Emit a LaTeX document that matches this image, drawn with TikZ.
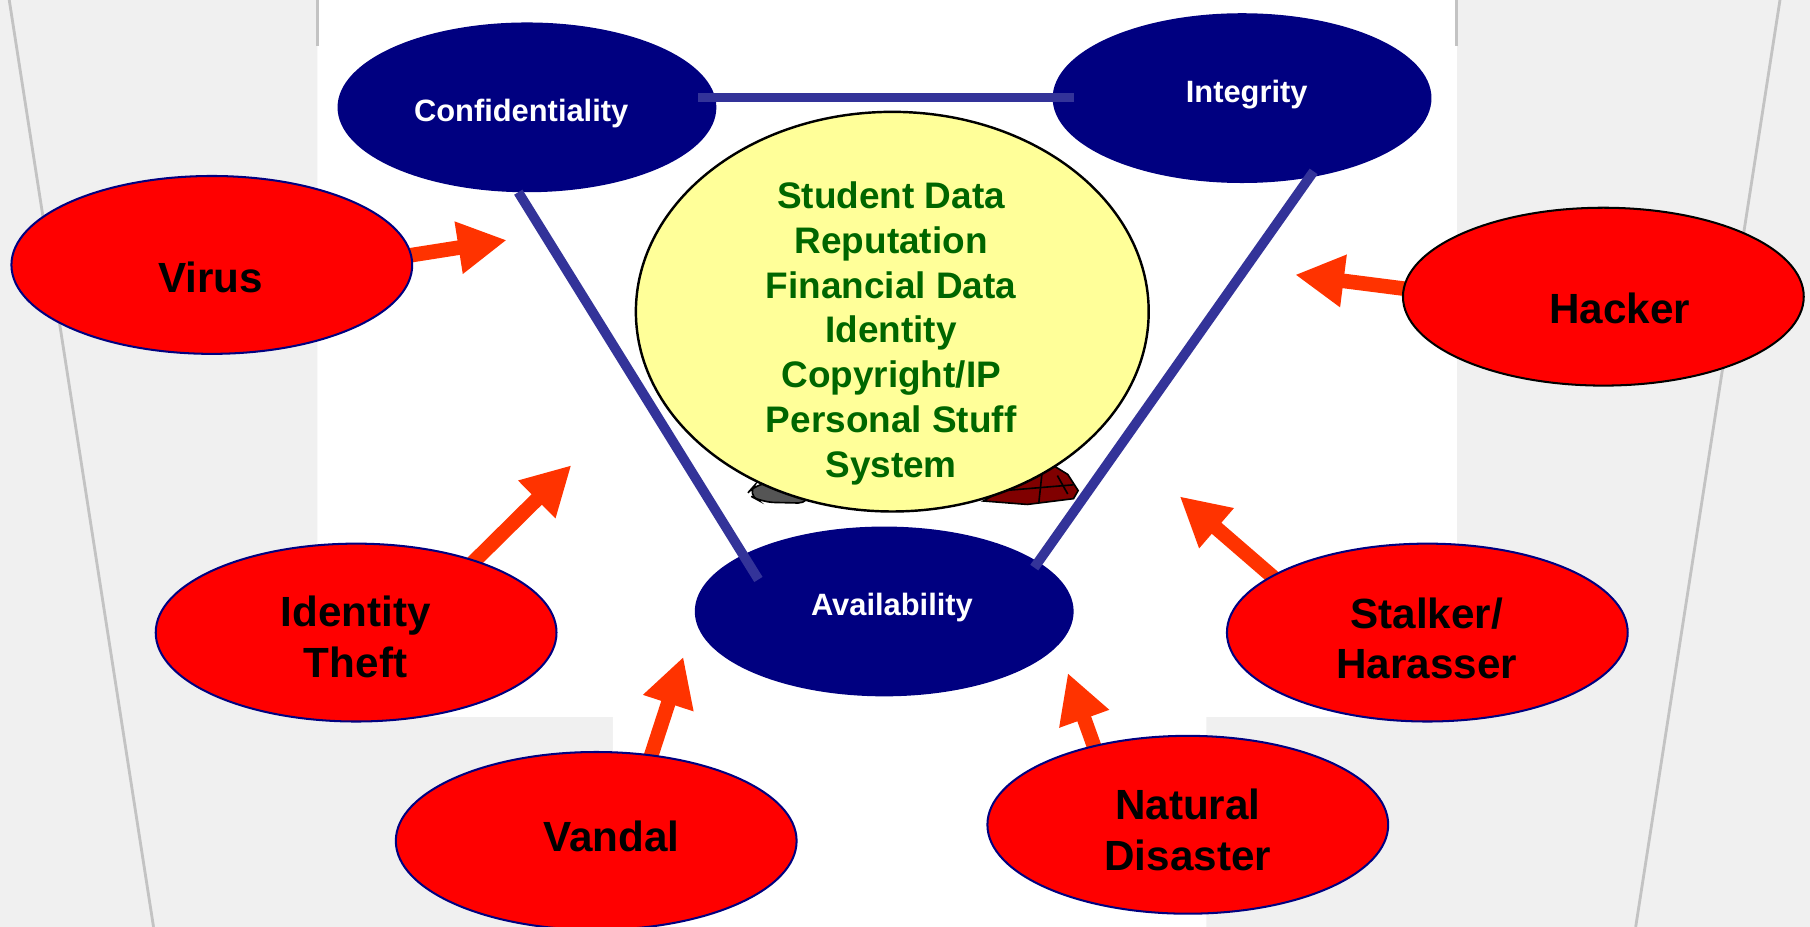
\documentclass[tikz,border=0pt]{standalone}
\usepackage{fontspec}
\setmainfont{Liberation Sans}
\usetikzlibrary{shapes.geometric,arrows.meta,calc}
\definecolor{navyb}{RGB}{0,0,128}
\definecolor{linkblue}{RGB}{51,51,153}
\definecolor{threatred}{RGB}{255,0,0}
\definecolor{arrowred}{RGB}{255,51,0}
\definecolor{assetyellow}{RGB}{255,255,153}
\definecolor{assetgreen}{RGB}{0,102,0}
\definecolor{texgray}{RGB}{240,240,240}
\definecolor{embgray}{RGB}{195,195,195}
\definecolor{shadowred}{RGB}{128,0,0}
\definecolor{shadowgray}{RGB}{85,85,85}
\pgfdeclarelayer{back}
\pgfdeclarelayer{behind}
\pgfsetlayers{back,behind,main}
\begin{document}
\begin{tikzpicture}[x=0.01cm,y=-0.01cm,
  cia/.style={ellipse, fill=navyb, draw=none, minimum width=3.28cm, minimum height=1.47cm, inner sep=0pt, outer sep=0pt},
  threat/.style={ellipse, fill=threatred, draw=navyb, line width=0.5pt, minimum width=3.47cm, minimum height=1.54cm, inner sep=0pt, outer sep=0pt},
  asset/.style={ellipse, fill=assetyellow, draw=black, line width=0.6pt, minimum width=4.44cm, minimum height=3.46cm, inner sep=0pt, outer sep=0pt},
  cialabel/.style={text=white, font=\fontsize{7.6pt}{9pt}\selectfont\bfseries, anchor=base, inner sep=0pt},
  threatlabel/.style={text=black, font=\fontsize{10.4pt}{12.5pt}\selectfont\bfseries, align=center, anchor=base, inner sep=0pt},
  assetlabel/.style={text=assetgreen, font=\fontsize{9.1pt}{11.04pt}\selectfont\bfseries, align=center, anchor=base, inner sep=0pt},
  link/.style={draw=linkblue, line width=2.4pt},
  attack/.style={draw=arrowred, line width=3.6pt, -{Triangle[length=12pt,width=12.2pt]}},
  emboss/.style={draw=embgray, line width=0.7pt},
]
\useasboundingbox (0,0) rectangle (1568,803);

% background
\begin{pgfonlayer}{back}
  \fill[texgray] (0,0) rectangle (1568,803);
  \fill[white] (275,0) -- (1262,0) -- (1262,621) -- (1045,621) -- (1045,803)
     -- (531,803) -- (531,621) -- (275,621) -- cycle;
  \draw[emboss] (8,0) -- (133,803);
  \draw[emboss] (1542,0) -- (1417,803);
  \draw[emboss] (275,0) -- (275,40);
  \draw[emboss] (1262,0) -- (1262,40);
\end{pgfonlayer}

% CIA nodes
\node[cia] (conf) at (456.5,93) {};
\node[cia] (integ) at (1076,85) {};
\node[cia] (avail) at (766,529.7) {};

% assets
\node[asset] (assets) at (773,270) {};

% threats
\node[threat] (virus) at (183.5,229.5) {};
\node[threat,draw=black] (hacker) at (1389,257) {};
\node[threat] (idtheft) at (308.5,548) {};
\node[threat] (stalker) at (1236.5,548) {};
\node[threat] (vandal) at (516.5,728.5) {};
\node[threat] (natural) at (1029,714.5) {};

% objects peeking out behind the asset ellipse
\begin{pgfonlayer}{behind}
  \filldraw[fill=shadowgray, draw=black, line width=0.4pt, rounded corners=3pt]
    (647,428) -- (655,419) -- (700,417) -- (702,436) -- (660,435) -- cycle;
  \filldraw[fill=shadowred, draw=black, line width=0.4pt]
    (852,434) -- (890,412) -- (912,403) -- (925,411) -- (934,425) -- (930,432) -- (890,437) -- cycle;
  \draw[black, line width=0.4pt] (903,407) -- (900,435);
  \draw[black, line width=0.4pt] (916,412) -- (925,428);
  \draw[black, line width=0.4pt] (870,425) -- (930,420);
\end{pgfonlayer}

% link end points
\coordinate (conf-e1) at ($(conf)+(148.5,-8.5)$);
\coordinate (integ-e1) at ($(integ)+(-146,-0.5)$);
\coordinate (conf-e2) at ($(conf)+(-7.5,73.5)$);
\coordinate (avail-e1) at ($(avail)+(-109,-27.7)$);
\coordinate (integ-e2) at ($(integ)+(62,63.5)$);
\coordinate (avail-e2) at ($(avail)+(130,-38)$);
\draw[link] (conf-e1) -- (integ-e1);
\draw[link] (conf-e2) -- (avail-e1);
\draw[link] (integ-e2) -- (avail-e2);

% attack arrows
\coordinate (virus-a) at ($(virus)+(163.5,-7)$);
\coordinate (virus-tip) at (439,208);
\coordinate (hacker-a) at ($(hacker)+(-163,-5.7)$);
\coordinate (hacker-tip) at (1122,238);
\coordinate (idtheft-a) at ($(idtheft)+(97.5,-57)$);
\coordinate (idtheft-tip) at (495,403);
\coordinate (stalker-a) at ($(stalker)+(-125.5,-41)$);
\coordinate (stalker-tip) at (1022,430);
\coordinate (vandal-a) at ($(vandal)+(45.5,-67.5)$);
\coordinate (vandal-tip) at (592,569);
\coordinate (natural-a) at ($(natural)+(-76,-53.5)$);
\coordinate (natural-tip) at (925,583);
\begin{pgfonlayer}{behind}
  \draw[attack] (virus-a) -- (virus-tip);
  \draw[attack] (hacker-a) -- (hacker-tip);
  \draw[attack] (idtheft-a) -- (idtheft-tip);
  \draw[attack] (stalker-a) -- (stalker-tip);
  \draw[attack] (vandal-a) -- (vandal-tip);
  \draw[attack] (natural-a) -- (natural-tip);
\end{pgfonlayer}

% labels
\node[cialabel] (conf-t) at (451.5,105.5) {Confidentiality};
\node[cialabel] (integ-t) at (1080,89) {Integrity};
\node[cialabel] (avail-t) at (772.7,533.6) {Availability};

\node[assetlabel] (assets-t) at (772,413.5) {Student Data\\Reputation\\Financial Data\\Identity\\Copyright/IP\\Personal Stuff\\System};

\node[threatlabel] (virus-t) at (182.5,253.7) {Virus};
\node[threatlabel] (hacker-t) at (1403,280.5) {Hacker};
\node[threatlabel] (idtheft-t) at (308,586.5) {Identity\\Theft};
\node[threatlabel] (stalker-t) at (1236,588) {Stalker/\\Harasser};
\node[threatlabel] (vandal-t) at (529.7,738) {Vandal};
\node[threatlabel] (natural-t) at (1029,754) {Natural\\Disaster};
\end{tikzpicture}
\end{document}
